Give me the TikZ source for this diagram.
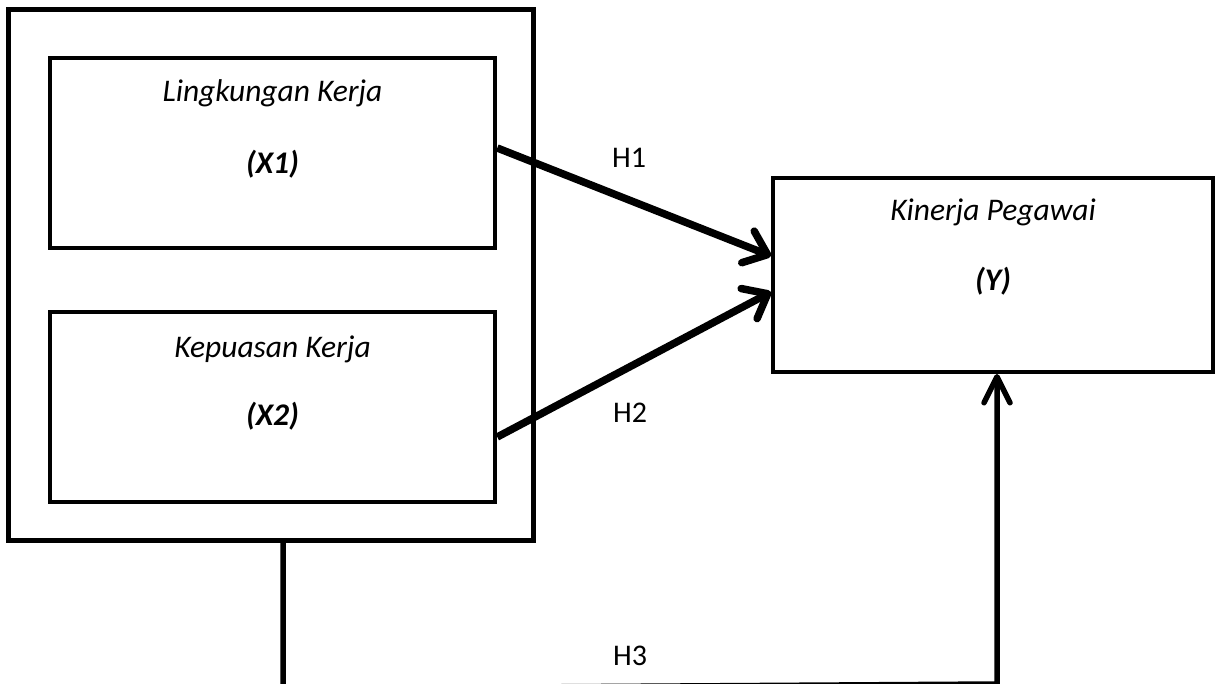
\documentclass[tikz,border=0pt]{standalone}
\usepackage{fontspec}
\setmainfont{Carlito}
\usetikzlibrary{arrows.meta}
\tikzset{
  box/.style={draw, line width=5pt, inner sep=0pt},
  lbl/.style={font=\fontsize{31.5}{36}\selectfont\itshape},
  var/.style={font=\fontsize{31.5}{36}\selectfont\bfseries\itshape},
  hyp/.style={font=\fontsize{30}{36}\selectfont},
  thick arrow/.style={line width=7.5pt, -{Straight Barb[length=21pt,width=34pt,round]}},
  path3/.style={line width=5.5pt, -{Straight Barb[length=26pt,width=26pt,round]}},
}
\begin{document}
\begin{tikzpicture}[x=1pt,y=-1pt]
\useasboundingbox (0,0) rectangle (1220,684);
\fill[white] (0,0) rectangle (1220,684);
% boxes
\node[box, minimum width=525pt, minimum height=530pt] (outer) at (270.5,275) {};
\node[box, line width=4.5pt, minimum width=445pt, minimum height=190pt] (in1) at (272.5,153) {};
\node[box, line width=4.5pt, minimum width=445pt, minimum height=190pt] (in2) at (272.5,407) {};
\node[box, line width=4pt, minimum width=440pt, minimum height=194pt] (rb) at (993,275) {};
% texts
\node[lbl] (t1) at (272.5,93) {Lingkungan Kerja};
\node[var] (v1) at (272.5,164) {(X1)};
\node[lbl] (t2) at (272.5,349) {Kepuasan Kerja};
\node[var] (v2) at (272.5,416) {(X2)};
\node[lbl] (t3) at (993,212) {Kinerja Pegawai};
\node[var] (v3) at (993,281) {(Y)};
% hypotheses labels
\node[hyp] (h1) at (629,158) {H1};
\node[hyp] (h2) at (630,413) {H2};
\node[hyp] (h3) at (630,656) {H3};
% connectors
\draw[thick arrow] ([yshift=5pt]in1.east) -- ([yshift=19pt]rb.west);
\draw[thick arrow] ([yshift=-30pt]in2.east) -- ([yshift=-17pt]rb.west);
\coordinate (c1) at (283,688.5);
\coordinate (c2) at (997,684);
\draw[path3, line join=miter] (outer.south -| c1) -- (c1) -- (c2) -- (c2 |- rb.south);
\end{tikzpicture}
\end{document}
